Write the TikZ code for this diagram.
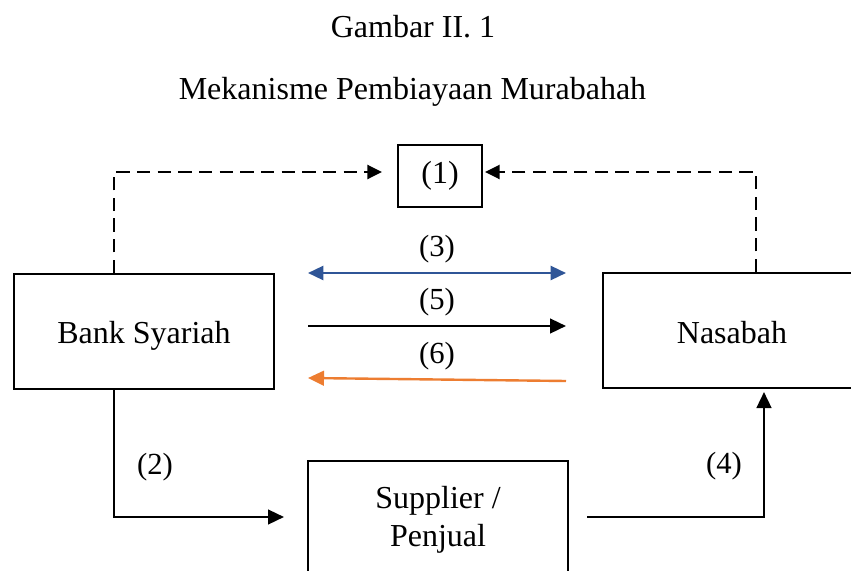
\documentclass[tikz,border=0pt]{standalone}
\usepackage{fontspec}
\setmainfont{Liberation Serif}
\usetikzlibrary{arrows.meta}
\definecolor{arrblue}{HTML}{2F5597}
\definecolor{arrorange}{HTML}{ED7D31}
\tikzset{
  boxstyle/.style={draw, line width=1.5pt, inner sep=0pt, font=\fontsize{24}{28.5}\selectfont, align=center},
  lbl/.style={font=\fontsize{23}{27}\selectfont, inner sep=0pt},
  ttl/.style={font=\fontsize{24}{29}\selectfont, inner sep=0pt, anchor=base},
  arr/.style={line width=1.8pt, -{Triangle[length=12pt,width=11pt]}},
  darr/.style={line width=1.8pt, {Triangle[length=11.5pt,width=10.5pt]}-{Triangle[length=11.5pt,width=10.5pt]}},
  dsh/.style={line width=1.8pt, dash pattern=on 10pt off 5.5pt, -{Triangle[length=11pt,width=10.5pt]}}
}
\begin{document}
\begin{tikzpicture}[x=0.75pt,y=-0.75pt]
\useasboundingbox (0,0) rectangle (851,571);
\clip (0,0) rectangle (851,571);
\fill[white] (0,0) rectangle (851,571);
% titles
\node[ttl] (t1) at (413,37) {Gambar II. 1};
\node[ttl] (t2) at (412.5,99) {Mekanisme Pembiayaan Murabahah};
% boxes
\node[boxstyle, minimum width=84*0.75pt, minimum height=62*0.75pt] (box1) at (440,176) {(1)};
\node[boxstyle, minimum width=260*0.75pt, minimum height=115*0.75pt,
      text height=17.25pt, text depth=0pt] (bank) at (144,331.5) {Bank Syariah};
\node[boxstyle, minimum width=258*0.75pt, minimum height=115*0.75pt,
      text height=18.75pt, text depth=0pt] (nasabah) at (732,330.5) {Nasabah};
\node[boxstyle, minimum width=260*0.75pt, minimum height=112*0.75pt,
      text height=43.5pt, text depth=0pt] (supplier) at (438,517) {Supplier /\\Penjual};
% named end points of the middle arrows
\coordinate (a3l) at (308,273);
\coordinate (a3r) at (566,273);
\coordinate (a5l) at (308,326);
\coordinate (a5r) at (566,326);
\coordinate (a6l) at (308,378);
\coordinate (a6r) at (566,381);
% dashed arrows to (1)
\draw[dsh] ([xshift=101*0.75pt]bank.north west) |- ([xshift=-15*0.75pt, yshift=3pt]box1.west);
\draw[dsh] ([xshift=154*0.75pt]nasabah.north west) |- ([xshift=2*0.75pt, yshift=3pt]box1.east);
% middle arrows
\draw[darr, arrblue] (a3l) -- (a3r);
\draw[arr] (a5l) -- (a5r);
\draw[arr, arrorange] (a6r) -- (a6l);
\node[lbl] (l3) at (437,249) {(3)};
\node[lbl] (l5) at (437,302) {(5)};
\node[lbl] (l6) at (437,356) {(6)};
% (2) and (4)
\draw[arr] ([xshift=101*0.75pt]bank.south west) |- ([xshift=-23*0.75pt]supplier.west);
\draw[arr] ([xshift=18*0.75pt]supplier.east) -| ([xshift=162*0.75pt, yshift=-3*0.75pt]nasabah.south west);
\node[lbl] (l2) at (155,467) {(2)};
\node[lbl] (l4) at (724,466) {(4)};
\end{tikzpicture}
\end{document}
